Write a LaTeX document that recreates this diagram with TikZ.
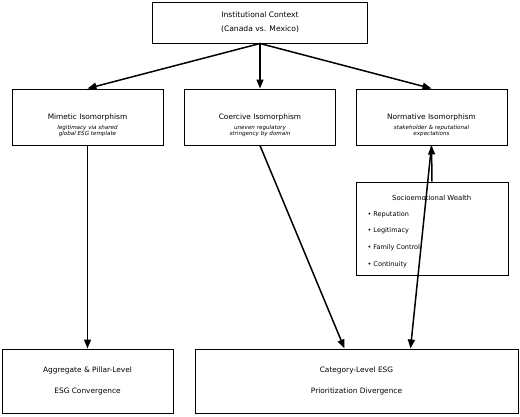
\documentclass[tikz,border=0pt]{standalone}
\usepackage{fontspec}
\setmainfont{DejaVu Sans}
\usetikzlibrary{arrows.meta}
\begin{document}
\begin{tikzpicture}[x=1pt,y=-1pt,
  box/.style={draw=black, line width=1pt, rectangle, inner sep=0pt},
  arr/.style={-{Triangle[length=9pt,width=7pt]}, line width=1.5pt},
  ttl/.style={font=\fontsize{7.4}{9}\selectfont, inner sep=0pt},
  sub/.style={font=\fontsize{5.6}{6.7}\selectfont\itshape, align=center, inner sep=0pt},
  two/.style={align=center, font=\fontsize{7.4}{21}\selectfont},
  bul/.style={font=\fontsize{6.5}{8}\selectfont, anchor=mid west, inner sep=0pt},
]
\useasboundingbox (0,0) rectangle (520,416);
% boxes
\node[box, minimum width=215pt, minimum height=41pt, align=center,
      font=\fontsize{7.6}{14}\selectfont] (ctx) at (260,22.5)
      {Institutional Context\\(Canada vs. Mexico)};
\node[box, minimum width=151pt, minimum height=56pt] (mim) at (87.5,117) {};
\node[box, minimum width=151pt, minimum height=56pt] (coe) at (260,117) {};
\node[box, minimum width=151pt, minimum height=56pt] (nor) at (431.5,117) {};
\node[box, minimum width=152pt, minimum height=93pt] (sew) at (432,228.5) {};
\node[box, two, minimum width=171pt, minimum height=64pt] (agg) at (87.5,381)
      {Aggregate \& Pillar-Level\\ESG Convergence};
\node[box, two, minimum width=323pt, minimum height=64pt] (cat) at (356.5,381)
      {Category-Level ESG\\Prioritization Divergence};
% texts in middle boxes
\node[ttl, anchor=mid] (mimT) at (87.5,117) {Mimetic Isomorphism};
\node[sub] (mimS) at (87.5,131) {legitimacy via shared\\global ESG template};
\node[ttl, anchor=mid] (coeT) at (260,117) {Coercive Isomorphism};
\node[sub] (coeS) at (260,131) {uneven regulatory\\stringency by domain};
\node[ttl, anchor=mid] (norT) at (431.5,117) {Normative Isomorphism};
\node[sub] (norS) at (431.5,131) {stakeholder \& reputational\\expectations};
% SEW contents
\node[font=\fontsize{6.9}{8}\selectfont, anchor=mid, inner sep=0pt] (sewT) at (431.7,198) {Socioemotional Wealth};
\node[bul] (b1) at (367.4,213.3) {• Reputation};
\node[bul] (b2) at (367.4,230) {• Legitimacy};
\node[bul] (b3) at (367.4,246.7) {• Family Control};
\node[bul] (b4) at (367.4,263.3) {• Continuity};
% arrows
\draw[arr] (ctx.south) -- (mim.north);
\draw[arr] (ctx.south) -- (coe.north);
\draw[arr] (ctx.south) -- (nor.north);
\draw[arr] (mim.south) -- (agg.north);
\draw[arr] (coe.south) -- ([xshift=150pt]cat.north west);
\draw[arr] (nor.south) -- ([xshift=216pt]cat.north west);
\draw[arr] (sew.north) -- (nor.south);
\end{tikzpicture}
\end{document}
